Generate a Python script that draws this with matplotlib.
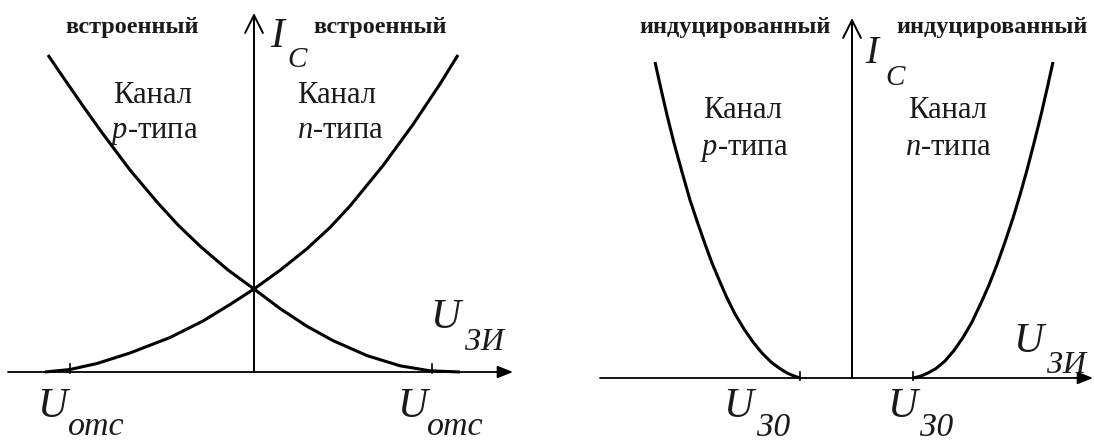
import matplotlib.pyplot as plt

plt.rcParams['font.family'] = ['Liberation Serif', 'DejaVu Serif']
plt.rcParams['mathtext.fontset'] = 'custom'
plt.rcParams['mathtext.rm'] = 'Liberation Serif'
plt.rcParams['mathtext.it'] = 'Liberation Serif:italic'

# Передаточные характеристики МДП-транзисторов (единицы условные)
# встроенный канал
emb_p_u = [-206, -191, -171, -151, -124, -97, -76, -53, -26, 0, 26, 53, 79, 113, 146, 176, 206]
emb_p_i = [317, 295, 266, 238, 202, 170, 147, 125, 102, 83, 63.5, 45.7, 31.4, 16.4, 6.2, 1.2, 0]
emb_n_u = [-209, -184, -157, -124, -84, -51, -24, 0, 26, 53, 76, 96, 129, 159, 186, 204]
emb_n_i = [0, 2.5, 8.5, 19, 34.5, 51, 67.5, 83, 101.7, 123.3, 144.5, 166, 206.4, 247.5, 288, 317]
emb_u_cut = [-184, 178]

# индуцированный канал
ind_p_u = [-197, -191, -185, -178, -170, -162, -155, -147, -140, -132,
           -125, -117, -108, -99, -90, -81, -73, -65, -58, -52]
ind_p_i = [316, 289, 263, 235, 206, 178, 157, 134, 115, 96,
           80, 64, 49, 36, 25, 16, 10, 5, 2, 0]
ind_n_u = [61, 64, 69, 76, 84, 93, 102, 111, 120, 129,
           137, 145, 153, 161, 168, 175, 182, 189, 195, 201]
ind_n_i = [0, 0.6, 2, 5, 9.5, 17, 27.5, 40.5, 56, 75,
           93, 113.5, 136, 160, 183, 208, 235, 263, 289, 316]
ind_u_th = [-52, 61]

fig = plt.figure(figsize=(10.94, 4.41), dpi=100)
ax1 = fig.add_axes([0, 0, 0.5, 1])
ax2 = fig.add_axes([0.5, 0, 0.5, 1])
ax1.set_xlim(-254, 293)
ax1.set_ylim(-69, 372)
ax2.set_xlim(-305, 242)
ax2.set_ylim(-63, 378)

ink = '#1a1a1a'
curve = dict(color='black', lw=2.2, solid_capstyle='butt', solid_joinstyle='round')
small = dict(fontsize=17.5, fontweight='bold', color=ink, ha='center', va='center')
body = dict(fontsize=22, color=ink)
it_big = dict(fontsize=30, style='italic', color=ink)
it_sub = dict(fontsize=23, style='italic', color=ink)


def draw_axes(ax, x0, x1, y1):
    ax.annotate('', xy=(x1, 0), xytext=(x0, 0),
                arrowprops=dict(arrowstyle='-|>,head_length=0.55,head_width=0.22',
                                lw=1.3, color='black', mutation_scale=17,
                                shrinkA=0, shrinkB=0))
    ax.annotate('', xy=(0, y1), xytext=(0, 0),
                arrowprops=dict(arrowstyle='->,head_length=0.8,head_width=0.4',
                                lw=1.4, color='black', mutation_scale=16,
                                shrinkA=0, shrinkB=0))


# ---- встроенный канал ----
draw_axes(ax1, -246, 259, 359)
ax1.plot(emb_p_u, emb_p_i, **curve)
ax1.plot(emb_n_u, emb_n_i, **curve)
for u in emb_u_cut:
    ax1.plot([u, u], [-1, 8], color='black', lw=1.2)

ax1.text(-122, 345, 'встроенный', **small)
ax1.text(126, 345, 'встроенный', **small)
ax1.text(16, 325, 'I', **it_big)
ax1.text(33, 305, 'C', fontsize=21, style='italic', color=ink)
ax1.text(-141, 269, 'Канал', **body)
ax1.text(-144, 234, '$p$-типа', **body)
ax1.text(43, 269, 'Канал', **body)
ax1.text(43, 234, '$n$-типа', **body)
ax1.text(176, 44, 'U', **it_big)
ax1.text(211, 22, 'ЗИ', **it_sub)
ax1.text(-217, -45, 'U', **it_big)
ax1.text(-186, -63, 'отс', fontsize=24.5, style='italic', color=ink)
ax1.text(143, -45, 'U', **it_big)
ax1.text(173, -63, 'отс', fontsize=24.5, style='italic', color=ink)

# ---- индуцированный канал ----
draw_axes(ax2, -252, 241, 360)
ax2.plot(ind_p_u, ind_p_i, **curve)
ax2.plot(ind_n_u, ind_n_i, **curve)
for u in ind_u_th:
    ax2.plot([u, u], [-2, 6], color='black', lw=1.2)

ax2.text(-117, 351, 'индуцированный', **small)
ax2.text(140, 351, 'индуцированный', **small)
ax2.text(13, 315, 'I', fontsize=28, style='italic', color=ink)
ax2.text(33, 293, 'C', fontsize=21, style='italic', color=ink)
ax2.text(-149, 260, 'Канал', **body)
ax2.text(-152, 223, '$p$-типа', **body)
ax2.text(56, 260, 'Канал', **body)
ax2.text(53, 223, '$n$-типа', **body)
ax2.text(161, 26, 'U', **it_big)
ax2.text(195, 5, 'ЗИ', **it_sub)
ax2.text(-129, -39, 'U', **it_big)
ax2.text(-95, -58, 'З0', fontsize=24, style='italic', color=ink)
ax2.text(35, -39, 'U', **it_big)
ax2.text(68, -58, 'З0', fontsize=24, style='italic', color=ink)

for ax in (ax1, ax2):
    ax.axis('off')

fig.savefig('out.png', dpi=100)
